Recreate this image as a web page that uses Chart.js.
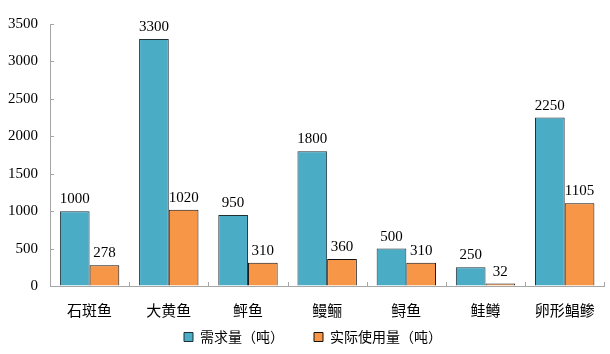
<!DOCTYPE html>
<html>
<head>
<meta charset="utf-8">
<script src="https://cdn.jsdelivr.net/npm/chart.js@4"></script>
<style>
  html, body { margin: 0; padding: 0; background: #fff; }
  #wrap { width: 610px; height: 354px; }
</style>
</head>
<body>
<div id="wrap"><canvas id="myChart"></canvas></div>
<script>
// data
const categories = ["石斑鱼", "大黄鱼", "鲆鱼", "鳗鲡", "鲟鱼", "鲑鳟", "卵形鲳鲹"];
const demand = [1000, 3300, 950, 1800, 500, 250, 2250];
const actualUse = [278, 1020, 310, 360, 310, 32, 1105];
const seriesNames = ["需求量（吨）", "实际使用量（吨）"];
const yTicks = [0, 500, 1000, 1500, 2000, 2500, 3000, 3500];

const numFont = "'Liberation Serif', 'Times New Roman', serif";
const cjkFont = "'Noto Sans CJK SC', sans-serif";
const axisGray = "#a6a6a6";

// value labels above the bars
const barLabels = {
  id: "barLabels",
  afterDatasetsDraw(chart) {
    const ctx = chart.ctx;
    ctx.save();
    ctx.font = "15px " + numFont;
    ctx.fillStyle = "#000";
    ctx.textAlign = "center";
    ctx.textBaseline = "alphabetic";
    chart.data.datasets.forEach((ds, i) => {
      chart.getDatasetMeta(i).data.forEach((bar, j) => {
        ctx.fillText(String(ds.data[j]), bar.x, bar.y - 8);
      });
    });
    ctx.restore();
  }
};

// small tick marks pointing into the plot
const insideTicks = {
  id: "insideTicks",
  afterDraw(chart) {
    const ctx = chart.ctx;
    const x = chart.scales.x, y = chart.scales.y;
    ctx.save();
    ctx.strokeStyle = axisGray;
    ctx.lineWidth = 1;
    ctx.beginPath();
    yTicks.forEach(v => {
      const py = Math.round(y.getPixelForValue(v)) + 0.5;
      ctx.moveTo(y.right, py);
      ctx.lineTo(y.right + 4, py);
    });
    const step = (x.right - x.left) / categories.length;
    for (let i = 1; i <= categories.length; i++) {
      const px = Math.round(x.left + i * step) + 0.5;
      ctx.moveTo(px, x.top);
      ctx.lineTo(px, x.top - 4);
    }
    ctx.stroke();
    ctx.restore();
  }
};

// wider gap between the two legend entries without making the legend taller
const LEGEND_PAD = 10, LEGEND_GAP = 30;
const legendGap = {
  id: "legendGap",
  beforeLayout(chart) {
    chart.options.plugins.legend.labels.padding = LEGEND_PAD;
  },
  afterLayout(chart) {
    const lg = chart.legend;
    const extra = LEGEND_GAP - LEGEND_PAD;
    lg.options.labels.padding = LEGEND_GAP;
    lg.lineWidths[0] += extra;
    lg.top -= extra;
  }
};

const chartRef = document.getElementById("myChart");
new Chart(chartRef, {
  type: "bar",
  data: {
    labels: categories,
    datasets: [
      {
        label: seriesNames[0],
        data: demand,
        backgroundColor: "#4bacc6",
        borderColor: "#1f2f36",
        borderWidth: 1
      },
      {
        label: seriesNames[1],
        data: actualUse,
        backgroundColor: "#f79646",
        borderColor: "#111",
        borderWidth: 1
      }
    ]
  },
  options: {
    responsive: true,
    maintainAspectRatio: false,
    animation: false,
    layout: { padding: { top: 24, right: 4, bottom: 0, left: 0 } },
    datasets: {
      bar: { categoryPercentage: 0.75, barPercentage: 1 }
    },
    scales: {
      x: {
        grid: { display: true, drawOnChartArea: false, drawTicks: false },
        border: { color: axisGray },
        ticks: {
          color: "#000",
          padding: 15,
          font: { family: cjkFont, size: 15 }
        },
        afterFit: (scale) => { scale.height = 34; }
      },
      y: {
        min: 0,
        max: 3500,
        grid: { display: true, drawOnChartArea: false, drawTicks: false },
        border: { color: axisGray },
        afterBuildTicks: (scale) => { scale.ticks = yTicks.map(v => ({ value: v })); },
        ticks: {
          color: "#000",
          padding: 12,
          font: { family: numFont, size: 15 },
          callback: (v) => String(v)
        },
        afterFit: (scale) => { scale.width = 50; }
      }
    },
    plugins: {
      legend: {
        position: "bottom",
        onClick: () => false,
        labels: {
          boxWidth: 9,
          boxHeight: 9,
          padding: LEGEND_PAD,
          color: "#000",
          font: { family: cjkFont, size: 14 }
        }
      },
      tooltip: { enabled: false }
    }
  },
  plugins: [barLabels, insideTicks, legendGap]
});
</script>
</body>
</html>
